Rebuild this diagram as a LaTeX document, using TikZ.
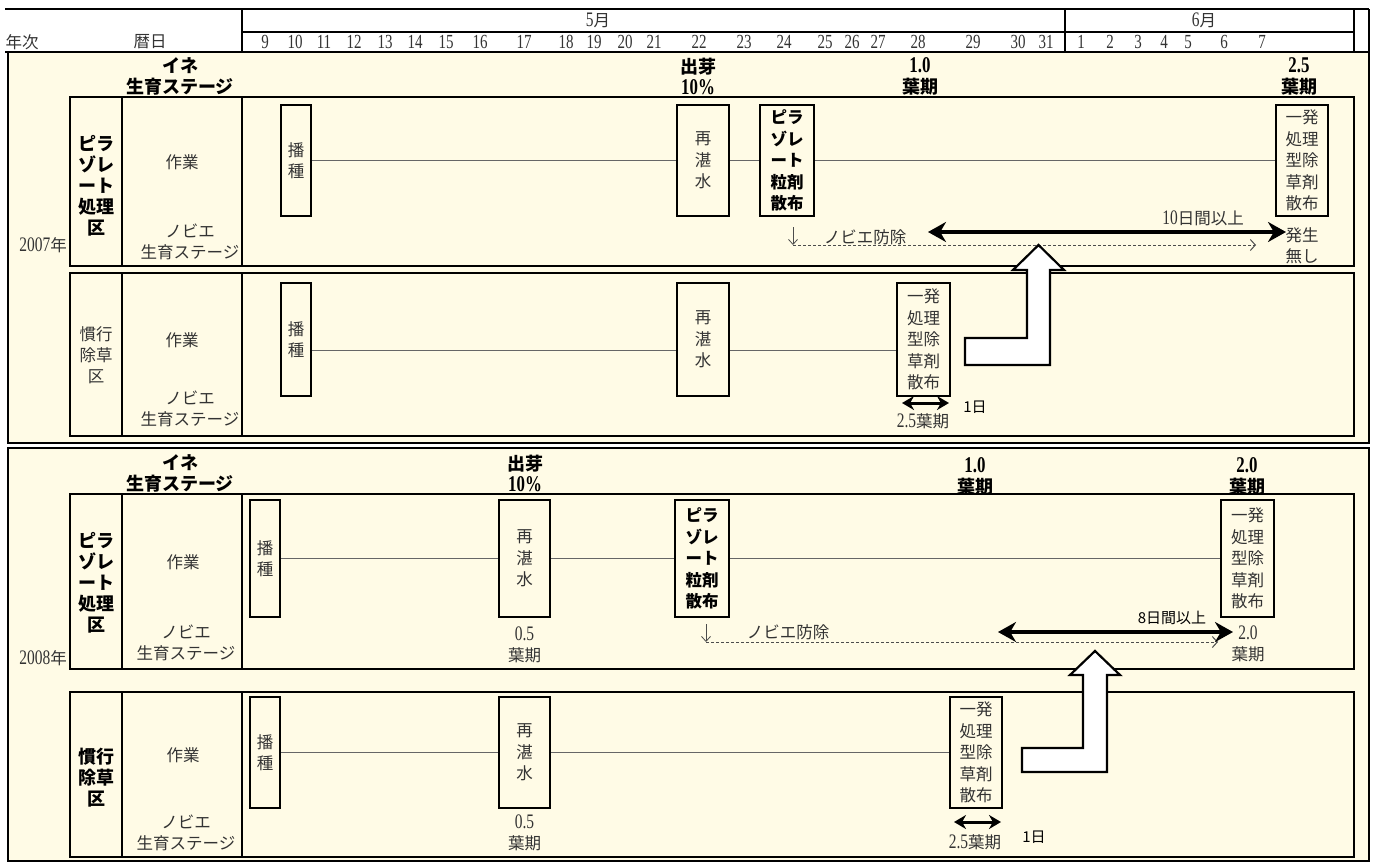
\documentclass[tikz,border=0pt]{standalone}
\usepackage{fontspec}
\setmainfont{Liberation Serif}[Scale=1.25,FakeStretch=0.75]
\newfontfamily\jp{Noto Sans CJK JP}
\usepackage{tikz}
\usetikzlibrary{positioning,arrows.meta}
\definecolor{cream}{HTML}{FFFBE6}
\definecolor{ink}{HTML}{333333}
\newcommand\numtxt[1]{{\rmfamily #1}}

\begin{document}
\begin{tikzpicture}[x=1pt, y=-1pt,
  panel/.style={draw, line width=1.6pt, fill=cream},
  plotframe/.style={draw, line width=1.8pt},
  gridline/.style={draw, line width=1.6pt},
  task/.style={rectangle, draw, line width=2pt, fill=cream, inner sep=0pt,
               align=center, minimum width=52pt, minimum height=111pt,
               text=ink, font=\jp\fontsize{16.5}{21.5}\selectfont},
  sowbox/.style={task, minimum width=30pt},
  boldtask/.style={task, minimum width=54pt, text=black,
                   font=\jp\bfseries\fontsize{16.5}{21.5}\selectfont},
  txt/.style={align=center, inner sep=0pt, text=ink,
              font=\jp\fontsize{16.5}{21}\selectfont},
  hdr/.style={align=center, inner sep=0pt,
              font=\jp\bfseries\fontsize{18}{21}\selectfont},
  day/.style={inner sep=0pt, text=ink, font=\fontsize{16}{18}\selectfont},
  gothic/.style={inner sep=0pt, font=\jp\fontsize{15}{18}\selectfont},
  linkline/.style={draw=black!60, line width=1.2pt},
  dashline/.style={draw=black!70, line width=1pt, dash pattern=on 3pt off 2pt,
                   -{Straight Barb[length=5pt,width=11pt]}},
  dnarrow/.style={draw=black!70, line width=0.8pt,
                  -{Straight Barb[length=5pt,width=9pt]}},
  spanarrow/.style={line width=4.5pt,
                    {Stealth[length=18pt,width=20pt]}-{Stealth[length=18pt,width=20pt]}},
  shortspan/.style={line width=3pt,
                    {Stealth[length=12pt,width=14pt]}-{Stealth[length=12pt,width=14pt]}},
  bigarrow/.style={draw, line width=2.2pt, fill=white, line join=miter}
]
  \useasboundingbox (0,0) rectangle (1378,862);

  % header
  \draw[gridline] (5,9) -- (1369,9);
  \draw[gridline] (242,32) -- (1354,32);
  \foreach \x in {242,1065,1354,1369}
    \draw[gridline] (\x,9) -- (\x,52);
  \node[txt] (yr) at (22,42) {年次};
  \node[txt] (cal) at (150,42) {暦日};
  \node[txt] (may) at (598,20) {\numtxt{5}月};
  \node[txt] (jun) at (1204,20) {\numtxt{6}月};
  \foreach \d/\x in {9/265,10/295,11/324,12/354,13/385,14/415,15/446,16/480,
                     17/524,18/566,19/594,20/625,21/654,22/699,23/744,24/784,
                     25/825,26/852,27/878,28/918,29/973,30/1018,31/1046}
    \node[day] (m\d) at (\x,42) {\d};
  \foreach \d/\x in {1/1081,2/1110,3/1138,4/1164,5/1188,6/1224,7/1262}
    \node[day] (j\d) at (\x,42) {\d};

  \draw[panel] (8,52) rectangle (1369,443);
  \draw[panel] (8,448) rectangle (1369,861);
  \draw[gridline] (5,52) -- (8,52);
  \foreach \t/\b in {97/266,273/436,494/669,692/857} {
    \draw[plotframe] (70,\t) rectangle (1354,\b);
    \draw[plotframe] (122,\t) -- (122,\b) (242,\t) -- (242,\b);
  }

  % 2007
  \node[hdr] (rice07) at (180,76) {イネ\\生育ステージ};
  \node[hdr] (emg07) at (698,76) {出芽\\\numtxt{10\%}};
  \node[hdr] (lf07a) at (920,76) {\numtxt{1.0}\\葉期};
  \node[hdr] (lf07b) at (1299,76) {\numtxt{2.5}\\葉期};
  \node[txt, anchor=east] (y07) at (67,245) {\numtxt{2007}年};

  \node[hdr] (plot07a) at (96,186) {ピラ\\ゾレ\\ート\\処理\\区};
  \node[txt] (work07a) at (182,162) {作業};
  \node[txt] (weed07a) at (190,242) {ノビエ\\生育ステージ};
  \node[txt] (plot07b) at (96,355) {慣行\\除草\\区};
  \node[txt] (work07b) at (182,340) {作業};
  \node[txt] (weed07b) at (190,409) {ノビエ\\生育ステージ};

  \node[sowbox] (sow07a) at (296,160.5) {播\\種};
  \node[task] (fld07a) at (703,160.5) {再\\湛\\水};
  \node[boldtask] (pyr07a) at (787,160.5) {ピラ\\ゾレ\\ート\\粒剤\\散布};
  \node[task] (hrb07a) at (1302,160.5) {一発\\処理\\型除\\草剤\\散布};
  \draw[linkline] (sow07a) -- (fld07a);
  \draw[linkline] (fld07a) -- (pyr07a);
  \draw[linkline] (pyr07a) -- (hrb07a);

  \coordinate (dn07a) at (793,227);
  \coordinate (dn07b) at (793,245);
  \coordinate (ds07) at (1256,245);
  \draw[dnarrow] (dn07a) -- (dn07b);
  \draw[dashline] (dn07b) -- (ds07);
  \node[txt] (ctl07) at (865,237) {ノビエ防除};
  \coordinate (sp07a) at (928,232);
  \coordinate (sp07b) at (1286,232);
  \draw[spanarrow] (sp07a) -- (sp07b);
  \node[txt] (gap07) at (1203,218) {\numtxt{10}日間以上};
  \node[txt] (none07) at (1302,246) {発生\\無し};

  \node[sowbox, minimum height=113pt] (sow07b) at (296,339.5) {播\\種};
  \node[task, minimum height=113pt] (fld07b) at (703,339.5) {再\\湛\\水};
  \node[task, minimum height=113pt, minimum width=53pt] (hrb07b) at (923.5,339.5)
    {一発\\処理\\型除\\草剤\\散布};
  \draw[linkline] ([yshift=-11pt]sow07b.east) -- ([yshift=-11pt]fld07b.west);
  \draw[linkline] ([yshift=-11pt]fld07b.east) -- ([yshift=-11pt]hrb07b.west);
  \coordinate (ss07a) at (902,403);
  \coordinate (ss07b) at (949,403);
  \draw[shortspan] (ss07a) -- (ss07b);
  \node[txt] (lf07c) at (923,421) {\numtxt{2.5}葉期};
  \node[gothic] (day07) at (975,407) {1日};

  \draw[bigarrow] (965,338) -- (1027,338) -- (1027,270) -- (1013,270) -- (1038.5,245)
    -- (1064,270) -- (1050,270) -- (1050,365) -- (965,365) -- cycle;

  % 2008
  \node[hdr] (rice08) at (180,473) {イネ\\生育ステージ};
  \node[hdr] (emg08) at (525,473) {出芽\\\numtxt{10\%}};
  \node[hdr] (lf08a) at (975,476) {\numtxt{1.0}\\葉期};
  \node[hdr] (lf08b) at (1247,476) {\numtxt{2.0}\\葉期};
  \node[txt, anchor=east] (y08) at (67,658) {\numtxt{2008}年};

  \node[hdr] (plot08a) at (96,583) {ピラ\\ゾレ\\ート\\処理\\区};
  \node[txt] (work08a) at (183,562) {作業};
  \node[txt] (weed08a) at (186,643) {ノビエ\\生育ステージ};
  \node[hdr] (plot08b) at (96,778) {慣行\\除草\\区};
  \node[txt] (work08b) at (183,755) {作業};
  \node[txt] (weed08b) at (186,833) {ノビエ\\生育ステージ};

  \node[sowbox, minimum height=117pt] (sow08a) at (265,558.5) {播\\種};
  \node[task, minimum height=117pt, minimum width=51pt] (fld08a) at (524.5,558.5) {再\\湛\\水};
  \node[boldtask, minimum height=117pt] (pyr08a) at (702,558.5) {ピラ\\ゾレ\\ート\\粒剤\\散布};
  \node[task, minimum height=117pt, minimum width=53pt] (hrb08a) at (1247.5,558.5)
    {一発\\処理\\型除\\草剤\\散布};
  \draw[linkline] (sow08a) -- (fld08a);
  \draw[linkline] (fld08a) -- (pyr08a);
  \draw[linkline] (pyr08a) -- (hrb08a);
  \node[txt] (lf08c) at (524.5,645) {\numtxt{0.5}\\葉期};

  \coordinate (dn08a) at (706,624);
  \coordinate (dn08b) at (706,642);
  \coordinate (ds08) at (1218,642);
  \draw[dnarrow] (dn08a) -- (dn08b);
  \draw[dashline] (dn08b) -- (ds08);
  \node[txt] (ctl08) at (788,632) {ノビエ防除};
  \coordinate (sp08a) at (998,632);
  \coordinate (sp08b) at (1233,632);
  \draw[spanarrow] (sp08a) -- (sp08b);
  \node[gothic] (gap08) at (1172,618) {8日間以上};
  \node[txt] (lf08d) at (1248,644) {\numtxt{2.0}\\葉期};

  \node[sowbox] (sow08b) at (265,752.5) {播\\種};
  \node[task, minimum width=51pt] (fld08b) at (524.5,752.5) {再\\湛\\水};
  \node[task] (hrb08b) at (976,752.5) {一発\\処理\\型除\\草剤\\散布};
  \draw[linkline] (sow08b) -- (fld08b);
  \draw[linkline] (fld08b) -- (hrb08b);
  \node[txt] (lf08e) at (524.5,833) {\numtxt{0.5}\\葉期};
  \coordinate (ss08a) at (954,822);
  \coordinate (ss08b) at (1001,822);
  \draw[shortspan] (ss08a) -- (ss08b);
  \node[txt] (lf08f) at (975,842) {\numtxt{2.5}葉期};
  \node[gothic] (day08) at (1034,837) {1日};

  \draw[bigarrow] (1022,748) -- (1083,748) -- (1083,675) -- (1070,675) -- (1095,651)
    -- (1120,675) -- (1107,675) -- (1107,772) -- (1022,772) -- cycle;
\end{tikzpicture}
\end{document}
